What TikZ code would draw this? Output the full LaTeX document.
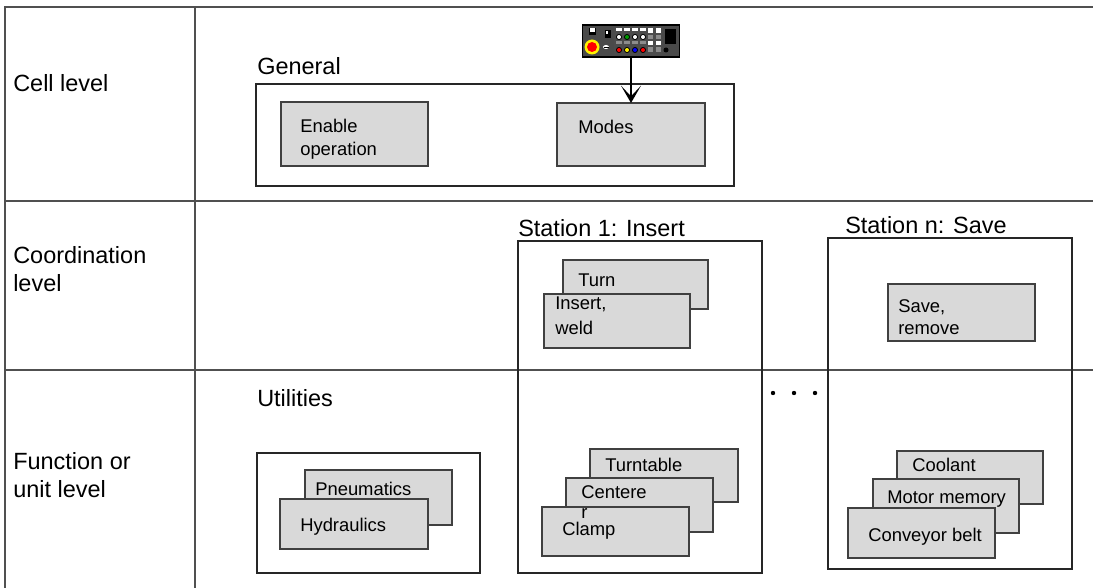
\documentclass[tikz,border=0pt]{standalone}
\usepackage{fontspec}
\setmainfont{Liberation Sans}
\usetikzlibrary{arrows.meta}
\definecolor{boxgray}{HTML}{D9D9D9}
\definecolor{rulegray}{HTML}{505050}
\definecolor{panelgray}{HTML}{4A4A4A}
\begin{document}
\begin{tikzpicture}[x=0.75pt,y=-0.75pt,
  rule/.style={draw=rulegray,line width=1.1pt},
  frame/.style={draw=black!85,line width=1pt},
  unit/.style={draw=black!75,fill=boxgray,line width=1pt},
  lvl/.style={anchor=west,inner sep=0,align=left,font=\fontsize{17.6}{21}\selectfont},
  head/.style={anchor=west,inner sep=0,font=\fontsize{17.6}{21}\selectfont},
  txt/.style={anchor=west,inner sep=0,align=left,font=\fontsize{13.8}{17}\selectfont},
]
\useasboundingbox (0,0) rectangle (1093,588);

% level grid
\draw[rule] (5,588) -- (5,7) -- (1093,7);
\draw[rule] (195,7) -- (195,588);
\draw[rule] (5,201) -- (1093,201);
\draw[rule] (5,370) -- (1093,370);

\node[lvl] (cell) at (13,83) {Cell level};
\node[lvl] (coord) at (13,269) {Coordination\\level};
\node[lvl] (func) at (13,475) {Function or\\unit level};

% cell level: general
\node[head] (general) at (257,66) {General};
\draw[frame] (256,84) rectangle (734,186);
\draw[unit] (281,102) rectangle (428,166);
\draw[unit] (557,103) rectangle (705,166);
\node[txt] (enable) at (300,139) {Enable\\operation};
\node[txt] (modes) at (578,127) {Modes};
\coordinate (modesTop) at (631,103);

% operator panel
\node[draw=black,fill=panelgray,line width=1pt,minimum width=72.75pt,minimum height=24pt,inner sep=0] (panel) at (631,41) {};
\begin{scope}
  \fill[black] (589,28) rectangle (596,35);
  \fill[white] (590,28.5) rectangle (595,32.5);
  \fill[yellow] (592,47) circle (7.5);
  \fill[red] (592,47) circle (5);
  \fill[black] (605,30) rectangle (611,38);
  \fill[white] (606,31) rectangle (608,34);
  \fill[white] (606,47) ellipse (3 and 2);
  \draw[black,line width=0.4pt] (603.5,47) -- (608.5,47);
  \fill[black!70] (614,27) rectangle (662,55);
  % top row keys
  \foreach \x in {616,624,632,640} {\fill[white] (\x,28) rectangle (\x+6,31);}
  \foreach \x in {648,656} {\fill[white] (\x,28) rectangle (\x+5,33);}
  % round buttons
  \foreach \x/\c in {619/white,627/green!60!black,635/white,643/white}
    {\fill[black] (\x,37) circle (3); \fill[\c] (\x,37) circle (2);}
  \foreach \x in {648,656} {\fill[black!45] (\x,35) rectangle (\x+5,39);}
  % grey bars
  \foreach \x in {616,624,632,640} {\fill[black!45] (\x,41) rectangle (\x+6,44);}
  \foreach \x in {648,656} {\fill[white] (\x,41) rectangle (\x+5,45);}
  % coloured buttons
  \foreach \x/\c in {619/red,627/yellow,635/blue,643/red}
    {\fill[black] (\x,50) circle (3); \fill[\c] (\x,50) circle (2);}
  \foreach \x in {648,656} {\fill[black!45] (\x,47) rectangle (\x+5,52);}
  \fill[black] (665,29) rectangle (676,44);
  \fill[black] (666,50) circle (2.5);
\end{scope}
\draw[black,line width=1pt,-{Stealth[length=13pt,width=15pt,inset=8pt]}] (panel.south) -- (modesTop);

% coordination level: stations
\node[head] (st1) at (518,228) {Station 1: Insert};
\draw[frame] (518,241) rectangle (762,573);
\node[head] (stn) at (845,225) {Station n: Save};
\draw[frame] (828,238) rectangle (1072,569);

\draw[unit] (563,260) rectangle (708,309);
\draw[unit] (544,294) rectangle (690,348);
\node[txt] (turn) at (578,280) {Turn};
\node[txt,font=\fontsize{13.8}{19}\selectfont] (insert) at (555,316) {Insert,\\weld};

\draw[unit] (888,284) rectangle (1035,341);
\node[txt] (save) at (898,317) {Save,\\remove};

% ellipsis between stations
\foreach \x [count=\i] in {773,794,815} {\fill[black] (\x,393) circle (2.2) coordinate (dot\i);}

% function level: utilities
\node[head] (util) at (257,398) {Utilities};
\draw[frame] (257,453) rectangle (480,573);
\draw[unit] (305,470) rectangle (452,525);
\draw[unit] (280,499) rectangle (428,549);
\node[txt] (pneu) at (315,489) {Pneumatics};
\node[txt] (hydr) at (300,527) {Hydraulics};

% function level: station 1 units
\draw[unit] (590,449) rectangle (738,502);
\draw[unit] (566,478) rectangle (713,532);
\draw[unit] (542,507) rectangle (689,556);
\node[txt] (turntable) at (605,465) {Turntable};
\node[txt,font=\fontsize{13.8}{15}\selectfont] (centerer) at (581,502) {Centere\\r};
\node[txt] (clamp) at (562,531) {Clamp};

% function level: station n units
\draw[unit] (897,451) rectangle (1043,504);
\draw[unit] (873,479) rectangle (1019,533);
\draw[unit] (848,508) rectangle (995,558);
\node[txt] (coolant) at (912,465) {Coolant};
\node[txt] (motor) at (887,499) {Motor memory};
\node[txt] (conveyor) at (868,537) {Conveyor belt};
\end{tikzpicture}
\end{document}
